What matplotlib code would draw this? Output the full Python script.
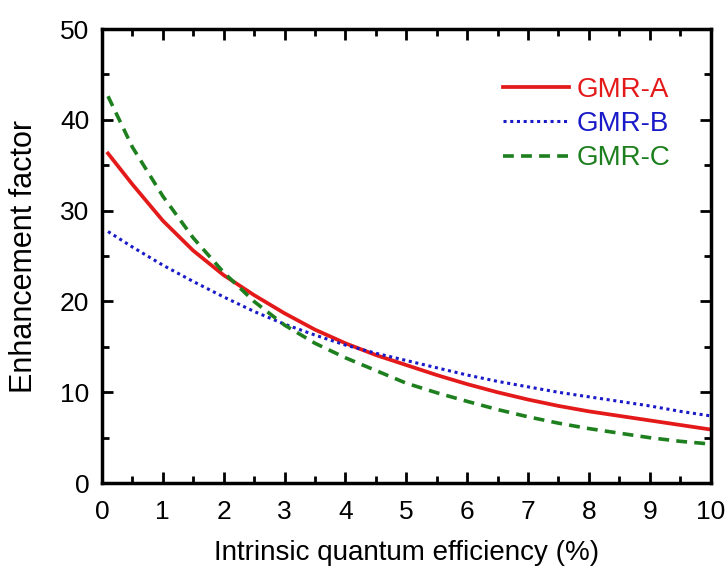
import numpy as np
import matplotlib.pyplot as plt
from matplotlib.ticker import MultipleLocator

plt.rcParams['font.family'] = ['Liberation Sans', 'DejaVu Sans']

# intrinsic quantum efficiency (%)
qe = [0.1, 0.5, 1.0, 1.5, 2.0, 2.5, 3.0, 3.5, 4.0, 4.5, 5.0,
      5.5, 6.0, 6.5, 7.0, 7.5, 8.0, 8.5, 9.0, 9.5, 10.0]

# enhancement factor for each GMR structure
gmr_a = [36.3, 32.9, 28.9, 25.6, 22.9, 20.7, 18.7, 16.9, 15.4, 14.1, 13.0,
         11.9, 10.9, 10.0, 9.2, 8.5, 7.9, 7.4, 6.9, 6.4, 5.9]
gmr_b = [27.7, 26.0, 24.0, 22.2, 20.5, 18.9, 17.5, 16.3, 15.2, 14.3, 13.5,
         12.7, 11.9, 11.2, 10.6, 10.0, 9.5, 9.0, 8.5, 7.9, 7.4]
gmr_c = [42.6, 37.0, 31.6, 27.0, 23.2, 20.0, 17.4, 15.4, 13.8, 12.4, 11.0,
         9.95, 9.0, 8.1, 7.3, 6.6, 6.0, 5.5, 5.0, 4.6, 4.3]

labels = ['GMR-A', 'GMR-B', 'GMR-C']
colors = ['#e41a1a', '#1a1ac8', '#1e7f1e']

fig = plt.figure(figsize=(7.28, 5.69), dpi=100)
ax = fig.add_axes([0.140, 0.151, 0.836, 0.798])

ax.plot(qe, gmr_a, color=colors[0], lw=2.7, ls='-', label=labels[0])
ax.plot(qe, gmr_b, color=colors[1], lw=2.2, ls=(0, (1, 1.2)), label=labels[1])
ax.plot(qe, gmr_c, color=colors[2], lw=2.6, ls=(0, (3, 2)), label=labels[2])

ax.set_xlim(0, 10)
ax.set_ylim(0, 50)
ax.xaxis.set_major_locator(MultipleLocator(1))
ax.xaxis.set_minor_locator(MultipleLocator(0.5))
ax.yaxis.set_major_locator(MultipleLocator(10))
ax.yaxis.set_minor_locator(MultipleLocator(5))
ax.tick_params(which='both', direction='in', top=True, right=True,
               width=2, labelsize=19)
ax.tick_params(which='major', length=8)
ax.tick_params(axis='x', which='major', pad=12)
ax.tick_params(axis='y', which='major', pad=9)
ax.tick_params(which='minor', length=5)
for s in ax.spines.values():
    s.set_linewidth(2.5)

ax.set_xlabel('Intrinsic quantum efficiency (%)', fontsize=20, labelpad=12)
ax.set_ylabel('Enhancement factor', fontsize=22, labelpad=15)

leg = ax.legend(loc='upper right', frameon=False, fontsize=20,
                handlelength=2.4, handletextpad=0.25, labelspacing=0.3,
                bbox_to_anchor=(0.975, 0.95))
for txt, c in zip(leg.get_texts(), colors):
    txt.set_color(c)

fig.savefig('out.png', dpi=100)
